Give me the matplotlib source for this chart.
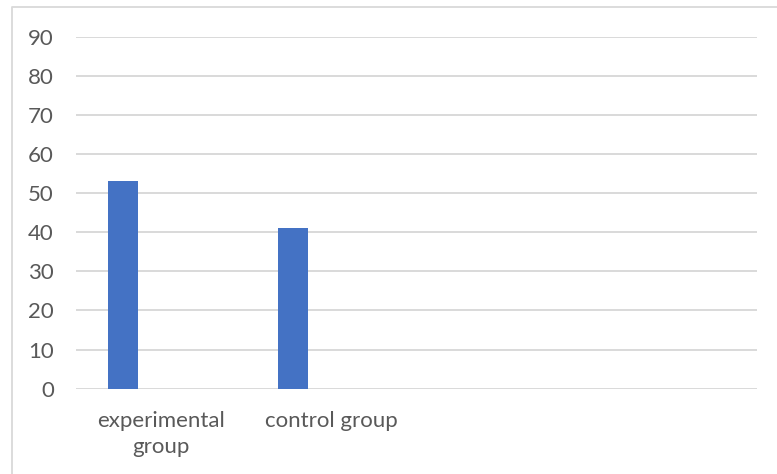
import numpy as np
import matplotlib.pyplot as plt
from matplotlib.lines import Line2D

categories = ["experimental\ngroup", "control group", "", ""]
values = [53.2, 41.0, np.nan, np.nan]
y_ticks = [0, 10, 20, 30, 40, 50, 60, 70, 80, 90]

TEXT = "#595959"
BAR = "#4472C4"
GRID = "#D9D9D9"

plt.rcParams['font.family'] = ['Lato', 'DejaVu Sans']

fig = plt.figure(figsize=(7.77, 4.74), dpi=100)
W, H = 777, 474
# plot area in pixels: x 76..757, y 36.7..388.7
ax = fig.add_axes([76 / W, 1 - 388.7 / H, (757 - 76) / W, (388.7 - 36.7) / H])

x = np.arange(len(categories))
ax.bar(x - 0.223, values, width=0.176, color=BAR, zorder=3)

ax.set_xlim(-0.5, len(categories) - 0.5)
ax.set_ylim(0, 90)
ax.set_yticks(y_ticks)
ax.set_xticks(x)
ax.set_xticklabels(categories, linespacing=1.4)
ax.grid(axis='y', color=GRID, linewidth=1.4, zorder=0)
ax.tick_params(axis='both', length=0, colors=TEXT, labelsize=16)
ax.tick_params(axis='y', pad=16)
ax.tick_params(axis='x', pad=16)
for s in ax.spines.values():
    s.set_visible(False)

# outer chart border (cut off at right and bottom)
fig.add_artist(Line2D([12 / W, 12 / W, 1], [0, 1 - 7 / H, 1 - 7 / H],
                      transform=fig.transFigure, color=GRID, linewidth=1.3))

fig.savefig("out.png", dpi=100)
